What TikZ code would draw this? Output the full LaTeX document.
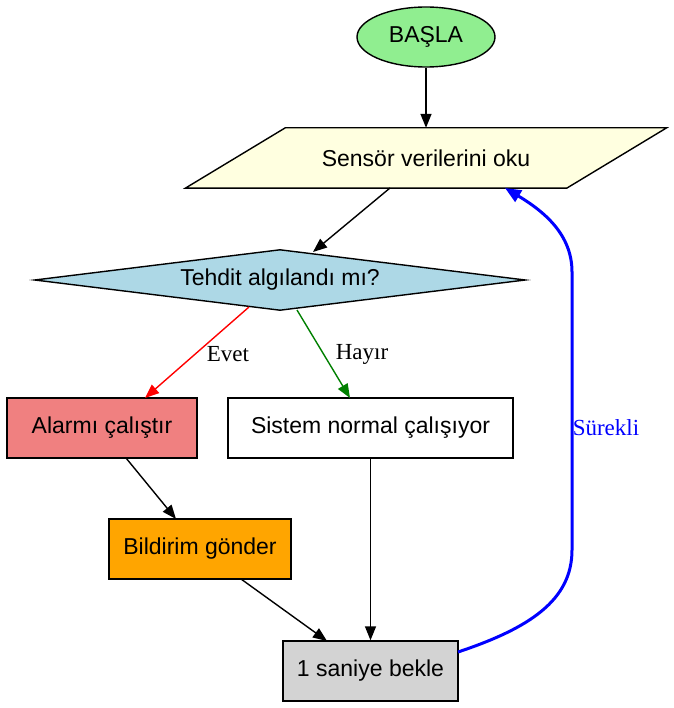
\documentclass[tikz,border=0pt]{standalone}
\usepackage{fontspec}
\setmainfont{Liberation Sans}
\newfontfamily\serifl{Liberation Serif}
\usetikzlibrary{shapes.geometric,arrows.meta,backgrounds,calc}
\definecolor{lgreen}{HTML}{90EE90}
\definecolor{lyellow}{HTML}{FFFFE0}
\definecolor{lblue}{HTML}{ADD8E6}
\definecolor{lcoral}{HTML}{F08080}
\definecolor{orng}{HTML}{FFA500}
\definecolor{lgray}{HTML}{D3D3D3}
\definecolor{dgreen}{HTML}{008000}
\begin{document}
\begin{tikzpicture}[x=1pt,y=-1pt,
  txt/.style={font=\fontsize{23}{27}\selectfont, inner sep=0pt},
  boxn/.style={txt, draw, line width=1.4pt, rectangle},
  lbl/.style={font=\serifl\fontsize{23}{27}\selectfont, inner sep=0pt},
  arr/.style={line width=1.4pt, -{Triangle[length=14pt,width=11pt]}},
  barr/.style={line width=3pt, blue, -{Triangle[length=16pt,width=13pt]}}]
\useasboundingbox (0,0) rectangle (673,708);
% nodes
\node[txt, draw, line width=1.4pt, ellipse, fill=lgreen, minimum width=138pt, minimum height=60pt] (start) at (426,37) {BAŞLA};
\node[txt, minimum width=381pt, minimum height=60pt] (sensor) at (426,158) {Sensör verilerini oku};
\node[txt, minimum width=490pt, minimum height=60pt] (dec) at (280,280) {Tehdit algılandı mı?};
\node[boxn, fill=lcoral, minimum width=190pt, minimum height=60pt] (alarm) at (102,428) {Alarmı çalıştır};
\node[boxn, fill=white, minimum width=285pt, minimum height=60pt] (normal) at (370.5,428) {Sistem normal çalışıyor};
\node[boxn, fill=orng, minimum width=182pt, minimum height=60pt] (notify) at (200,549) {Bildirim gönder};
\node[boxn, fill=lgray, minimum width=175pt, minimum height=60pt] (wait) at (370.5,671) {1 saniye bekle};
\begin{scope}[on background layer]
\fill[white] (0,0) rectangle (673,708);
\draw[line width=1.4pt, fill=lyellow] ($(sensor.north west)+(50,0)$) -- ($(sensor.north east)+(50,0)$) -- ($(sensor.south east)-(50,0)$) -- ($(sensor.south west)-(50,0)$) -- cycle;
\draw[line width=1.4pt, fill=lblue] (dec.west) -- (dec.north) -- (dec.east) -- (dec.south) -- cycle;
\end{scope}
% edge anchors
\coordinate (s1) at (390,188);
\coordinate (d1) at (313,252);
\coordinate (d2) at (249,307);
\coordinate (d3) at (297,310);
\coordinate (a1) at (145,398);
\coordinate (n1) at (350,398);
\coordinate (a2) at (126,458);
\coordinate (b1) at (176,519);
\coordinate (b2) at (241,579);
\coordinate (w1) at (327,641);
\coordinate (w2) at (458,652);
\coordinate (s2) at (505,188);
% edges
\draw[arr] (start.south) -- (sensor.north);
\draw[arr] (s1) -- (d1);
\draw[arr, red] (d2) -- (a1);
\draw[arr, dgreen] (d3) -- (n1);
\node[lbl] (evet) at (228,354) {Evet};
\node[lbl] (hayir) at (362,354) {Hayır};
\draw[arr] (a2) -- (b1);
\draw[arr] (b2) -- (w1);
\draw[arr] (normal.south) -- (wait.north);
\draw[barr] (w2) .. controls (530,628) and (572,600) .. (572,550) -- (572,272) .. controls (572,235) and (545,212) .. (s2);
\node[lbl, blue] (sur) at (606,428) {Sürekli};
\end{tikzpicture}
\end{document}
